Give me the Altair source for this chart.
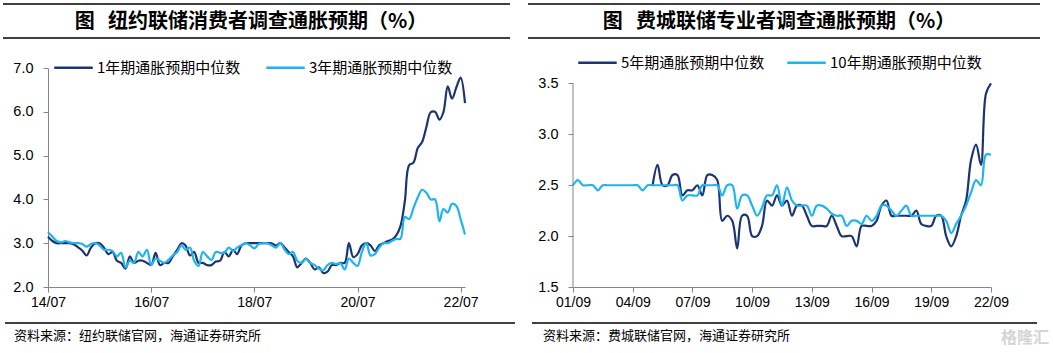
import altair as alt
import pandas as pd

# ---------------- data ----------------
ny_series = ["1年期通胀预期中位数", "3年期通胀预期中位数"]
ny_start = "2014-07-01"
ny_1y = [
    3.15, 3.05, 3.0, 3.0, 3.0, 3.0, 2.97, 2.9, 2.83, 2.72,
    2.9, 3.0, 3.0, 2.9, 2.75, 2.8, 2.6, 2.55, 2.42, 2.7,
    2.55, 2.6, 2.6, 2.55, 2.5, 2.78, 2.5, 2.55, 2.55, 2.7,
    2.85, 3.0, 2.95, 2.72, 2.8, 2.55, 2.55, 2.5, 2.5, 2.58,
    2.6, 2.8, 2.7, 2.85, 2.75, 2.95, 3.0, 3.0, 3.0, 3.0,
    3.0, 3.0, 3.0, 2.95, 3.0, 2.9, 2.8, 2.7, 2.45, 2.55,
    2.65, 2.55, 2.4, 2.45, 2.32, 2.35, 2.5, 2.5, 2.55, 2.55,
    3.0, 2.68, 2.75, 2.95, 3.0, 2.95, 2.82, 2.95, 3.0, 3.05,
    3.08, 3.18, 3.39, 3.96, 4.78, 4.84, 5.18, 5.31, 5.66, 5.99,
    6.0, 5.82, 5.99, 6.58, 6.3, 6.56, 6.78, 6.2,
]
ny_3y = [
    3.25, 3.15, 3.05, 3.02, 3.05, 3.02, 3.0, 3.0, 2.98, 2.92,
    2.98, 3.0, 2.95, 2.85, 2.85, 2.82, 2.7, 2.78, 2.45, 2.6,
    2.55, 2.8, 2.7, 2.85, 2.5, 2.65, 2.6, 2.55, 2.62, 2.72,
    2.8, 2.95, 2.85, 2.9, 2.6, 2.48, 2.8, 2.7, 2.62, 2.8,
    2.78, 2.78, 2.9, 2.82, 2.9, 2.95, 3.0, 2.95, 2.88, 2.98,
    3.0, 3.0, 2.95, 2.9, 3.0, 2.85, 2.75, 2.8, 2.6, 2.55,
    2.65, 2.55, 2.5, 2.42, 2.38, 2.5, 2.55, 2.52, 2.55, 2.4,
    2.65, 2.55, 2.48, 2.8, 3.0, 2.72, 2.75, 2.9, 3.0, 3.0,
    3.05, 3.1, 3.1, 3.6, 3.55, 3.8, 4.05, 4.22, 4.15, 4.0,
    4.0, 3.5, 3.78, 3.7, 3.9, 3.85, 3.55, 3.2,
]
ny_tick_years = [2014, 2016, 2018, 2020, 2022]
ny_y_ticks = [2.0, 3.0, 4.0, 5.0, 6.0, 7.0]

spf_series = ["5年期通胀预期中位数", "10年期通胀预期中位数"]
spf_start = "2001-09-01"
spf_10y = [
    2.5, 2.55, 2.5, 2.5, 2.5, 2.45, 2.5, 2.5, 2.5, 2.5,
    2.5, 2.5, 2.5, 2.5, 2.45, 2.5, 2.5, 2.5, 2.5, 2.5,
    2.5, 2.5, 2.35, 2.4, 2.4, 2.4, 2.5, 2.5, 2.5, 2.5,
    2.4, 2.5, 2.5, 2.27, 2.4, 2.4, 2.3, 2.2, 2.28, 2.4,
    2.4, 2.5, 2.3, 2.48, 2.35, 2.3, 2.3, 2.3, 2.2, 2.3,
    2.3, 2.27, 2.22, 2.2, 2.2, 2.1, 2.15, 2.15, 2.12, 2.2,
    2.15, 2.2, 2.3, 2.3, 2.25, 2.2, 2.25, 2.3, 2.2, 2.2,
    2.2, 2.2, 2.2, 2.2, 2.2, 2.15, 2.03, 2.12, 2.2, 2.3,
    2.43, 2.55, 2.5, 2.8, 2.8,
]
spf_5y_start = "2005-09-01"
spf_5y = [
    2.5, 2.7, 2.5, 2.5,
    2.6, 2.6, 2.4, 2.45, 2.45, 2.5, 2.4, 2.6, 2.6, 2.55,
    2.15, 2.2, 2.15, 1.88, 2.2, 2.2, 2.0, 2.0, 2.1, 2.35,
    2.3, 2.4, 2.3, 2.35, 2.2, 2.3, 2.3, 2.2, 2.1, 2.1,
    2.1, 2.1, 2.2, 2.1, 2.0, 2.0, 2.0, 1.9, 2.1, 2.1,
    2.1, 2.15, 2.3, 2.35, 2.2, 2.2, 2.2, 2.2, 2.2, 2.25,
    2.12, 2.1, 2.1, 2.2, 2.2, 2.0, 1.9, 2.0, 2.2, 2.35,
    2.75, 2.9, 2.7, 3.4, 3.5,
]
spf_tick_years = [2001, 2004, 2007, 2010, 2013, 2016, 2019, 2022]
spf_y_ticks = [1.5, 2.0, 2.5, 3.0, 3.5]

titles = ["图\u2002\u2006纽约联储消费者调查通胀预期（%）", "图\u2002\u2006费城联储专业者调查通胀预期（%）"]
sources = ["资料来源：纽约联储官网，海通证券研究所", "资料来源：费城联储官网，海通证券研究所"]

NAVY = "#1B3572"
SKY = "#1FB4EE"
AXIS_GRAY = "#868686"
CJK = "Noto Sans CJK SC"
LATIN = "Liberation Sans"

# ---------------- tables ----------------
ny_dates = pd.date_range(ny_start, periods=len(ny_1y), freq="MS")
ny_df = pd.concat([
    pd.DataFrame({"date": ny_dates, "value": ny_1y, "series": ny_series[0]}),
    pd.DataFrame({"date": ny_dates, "value": ny_3y, "series": ny_series[1]}),
])
spf_dates = pd.date_range(spf_start, periods=len(spf_10y), freq="3MS")
spf5_dates = pd.date_range(spf_5y_start, periods=len(spf_5y), freq="3MS")
spf_df = pd.concat([
    pd.DataFrame({"date": spf5_dates, "value": spf_5y, "series": spf_series[0]}),
    pd.DataFrame({"date": spf_dates, "value": spf_10y, "series": spf_series[1]}),
])

dummy = alt.Data(values=[{"k": 0}])
W_L, W_R, H = 417, 418, 219


def hrule(x, x2, y, color="#000000", width=1.5):
    return alt.Chart(dummy).mark_rule(color=color, strokeWidth=width).encode(
        x=alt.value(x), x2=alt.value(x2), y=alt.value(y))


def vrule(x, y, y2, color="#ffffff", width=1):
    return alt.Chart(dummy).mark_rule(color=color, strokeWidth=width).encode(
        x=alt.value(x), y=alt.value(y), y2=alt.value(y2))


def label(text, x, y, size, weight="normal", align="left", color="#000000"):
    return alt.Chart(dummy).mark_text(
        text=text, font=CJK, fontSize=size, fontWeight=weight, align=align,
        baseline="middle", color=color).encode(x=alt.value(x), y=alt.value(y))


def x_axis(years, month):
    return alt.Axis(
        values=[alt.DateTime(year=yr, month=month, date=1) for yr in years],
        format="%y/%m", labelFont=LATIN, labelFontSize=14, labelColor="#000000",
        tickSize=5, labelPadding=3, domainColor=AXIS_GRAY, tickColor=AXIS_GRAY,
        grid=False, labelFlush=False, labelOverlap=False)


def y_axis(values, domain=True):
    return alt.Axis(
        values=values, format=".1f", labelFont=LATIN, labelFontSize=14.5,
        labelColor="#000000", tickSize=5, labelPadding=10, domain=domain,
        domainColor=AXIS_GRAY, tickColor=AXIS_GRAY, grid=False)


def legend(x, y, pad):
    return alt.Legend(
        orient="none", legendX=x, legendY=y, direction="horizontal", title=None,
        symbolType="stroke", symbolSize=1480, symbolStrokeWidth=2.5,
        labelFont=CJK, labelFontSize=15, labelColor="#000000", labelOffset=3,
        columnPadding=pad, padding=0, labelLimit=300)


# ---------------- left panel ----------------
left_lines = alt.Chart(ny_df).mark_line(interpolate="catmull-rom", strokeWidth=2.2).encode(
    x=alt.X("date:T", title=None,
            scale=alt.Scale(domain=[alt.DateTime(year=2014, month=7, date=1),
                                    alt.DateTime(year=2022, month=8, date=1)], nice=False),
            axis=x_axis(ny_tick_years, 7)),
    y=alt.Y("value:Q", title=None, scale=alt.Scale(domain=[2, 7], nice=False, zero=False),
            axis=y_axis(ny_y_ticks)),
    color=alt.Color("series:N", sort=ny_series,
                    scale=alt.Scale(domain=ny_series, range=[NAVY, SKY]),
                    legend=legend(5, -21, 20)),
)

left = alt.layer(
    vrule(-47.5, -67, 286),
    hrule(-45, 462, -64),
    hrule(-45, 462, -30),
    label(titles[0], 203, -46, 20, weight="bold", align="center"),
    hrule(-43, 467, 255),
    label(sources[0], -34, 268, 13),
    left_lines,
).properties(width=W_L, height=H)

# ---------------- right panel ----------------
right_lines = alt.Chart(spf_df).mark_line(interpolate="catmull-rom", strokeWidth=2.2).encode(
    x=alt.X("date:T", title=None,
            scale=alt.Scale(domain=[alt.DateTime(year=2001, month=9, date=1),
                                    alt.DateTime(year=2022, month=9, date=1)], nice=False),
            axis=x_axis(spf_tick_years, 9)),
    y=alt.Y("value:Q", title=None, scale=alt.Scale(domain=[1.5, 3.652], nice=False, zero=False),
            axis=y_axis(spf_y_ticks, domain=False)),
    color=alt.Color("series:N", sort=spf_series,
                    scale=alt.Scale(domain=spf_series, range=[NAVY, SKY]),
                    legend=legend(4, -26, 17)),
)

right_axis_line = alt.Chart(dummy).mark_rule(color=AXIS_GRAY, strokeWidth=1).encode(
    x=alt.value(0), y=alt.datum(spf_y_ticks[0]), y2=alt.datum(spf_y_ticks[-1]))

right = alt.layer(
    vrule(479.5, -67, 286),
    hrule(-45, 467, -64),
    hrule(-45, 467, -30),
    label(titles[1], 206, -46, 20, weight="bold", align="center"),
    hrule(-41, 464, 255),
    label(sources[1], -30, 268, 13),
    label("格隆汇", 452, 270, 16, weight="bold", align="center", color="#d4d4d4"),
    right_axis_line,
    right_lines,
).properties(width=W_R, height=H)

chart = alt.hconcat(left, right, spacing=108, bounds="flush").resolve_scale(
    x="independent", y="independent", color="independent"
).properties(padding=0, background="#ffffff").configure_view(strokeWidth=0)

chart.save("out.html", embed_options={"renderer": "svg", "actions": False})
